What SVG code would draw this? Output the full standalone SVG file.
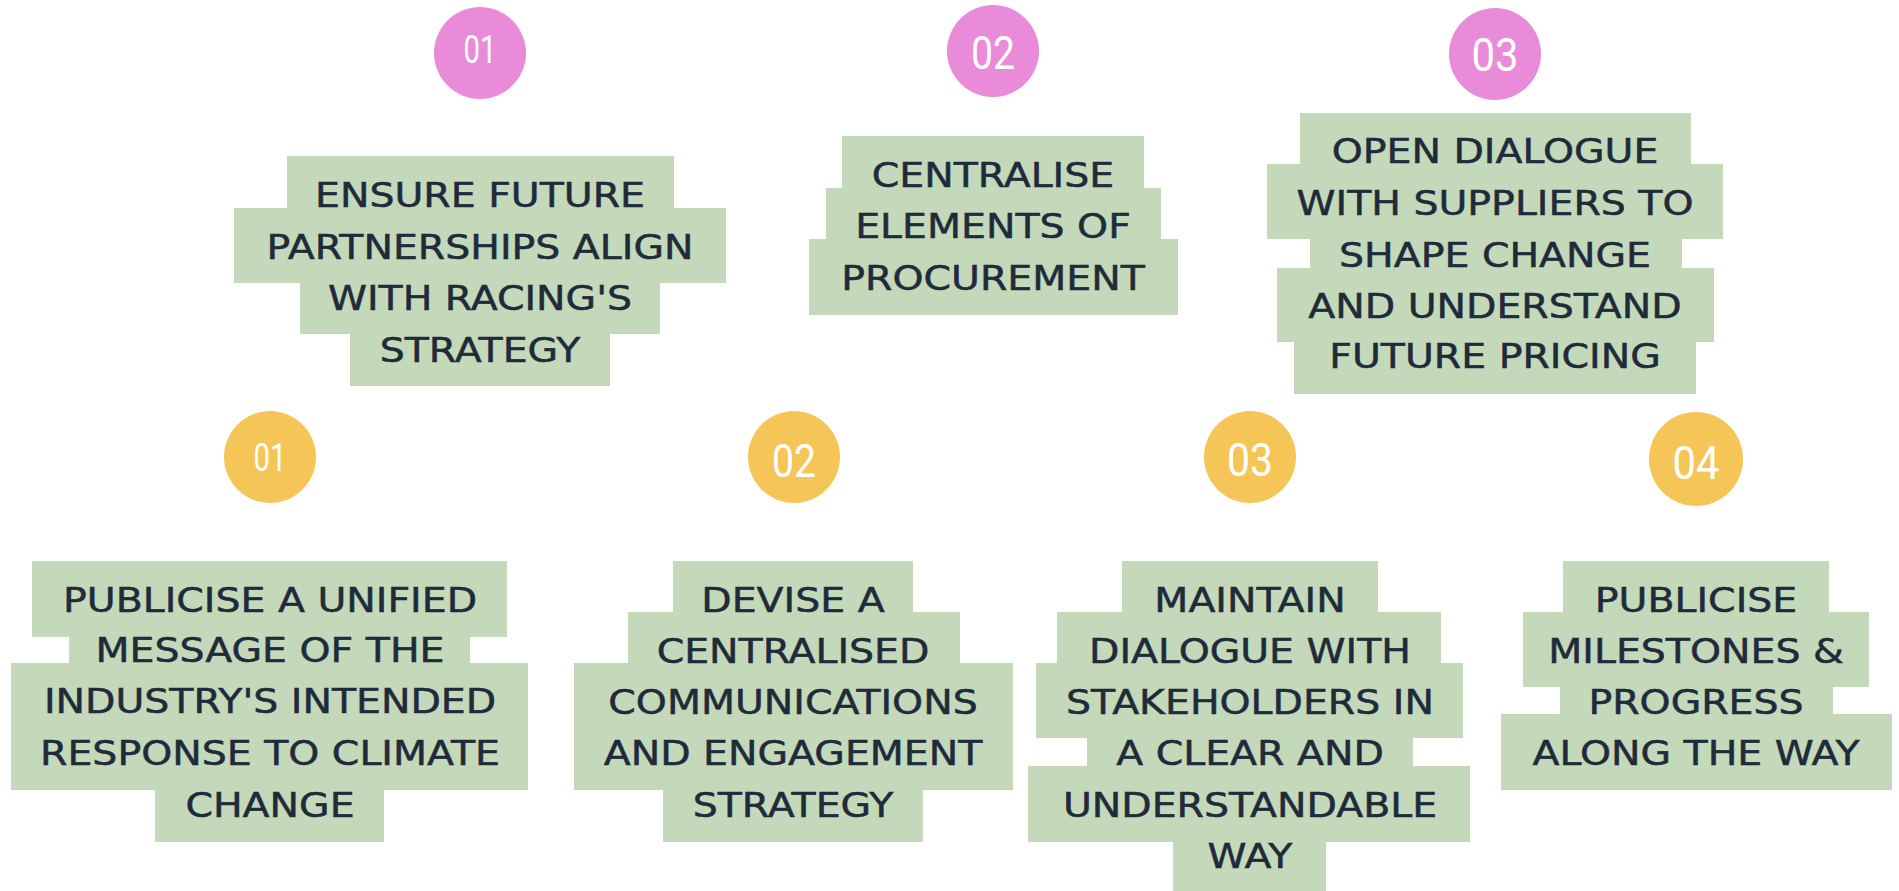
<svg xmlns="http://www.w3.org/2000/svg" width="1899" height="891" viewBox="0 0 1899 891">
<style>
.box{fill:#c3d9b9}
.pink{fill:#e98bd9}
.yel{fill:#f6c557}
.num{font-family:Roboto,"Liberation Sans",sans-serif;fill:#ffffff;text-anchor:middle}
.lbl{font-family:"DejaVu Sans","Liberation Sans",sans-serif;font-size:33px;fill:#1f2a3a;stroke:#1f2a3a;stroke-width:0.5px;text-anchor:middle}
</style>
<rect width="1899" height="891" fill="#ffffff"/>
<g id="connectors"/>
<g id="p1">
<circle class="pink" cx="480" cy="53" r="46"/>
<text class="num" x="480" y="63" font-size="38" textLength="33" lengthAdjust="spacingAndGlyphs">01</text>
<rect class="box" x="287" y="156" width="387" height="52"/>
<rect class="box" x="234" y="208" width="492" height="75"/>
<rect class="box" x="300" y="283" width="360" height="51"/>
<rect class="box" x="350" y="334" width="260" height="52"/>
<text class="lbl" transform="translate(480 0) scale(1.195 1)"><tspan x="0" y="207">ENSURE FUTURE</tspan><tspan x="0" y="259">PARTNERSHIPS ALIGN</tspan><tspan x="0" y="310">WITH RACING'S</tspan><tspan x="0" y="362">STRATEGY</tspan></text>
</g>
<g id="p2">
<circle class="pink" cx="993" cy="51" r="46"/>
<text class="num" x="993" y="69" font-size="46" textLength="44" lengthAdjust="spacingAndGlyphs">02</text>
<rect class="box" x="842" y="136" width="302" height="52"/>
<rect class="box" x="826" y="188" width="335" height="51"/>
<rect class="box" x="809" y="239" width="369" height="76"/>
<text class="lbl" transform="translate(993 0) scale(1.195 1)"><tspan x="0" y="187">CENTRALISE</tspan><tspan x="0" y="238">ELEMENTS OF</tspan><tspan x="0" y="290">PROCUREMENT</tspan></text>
</g>
<g id="p3">
<circle class="pink" cx="1495" cy="54" r="46"/>
<text class="num" x="1495" y="71" font-size="46" textLength="47" lengthAdjust="spacingAndGlyphs">03</text>
<rect class="box" x="1300" y="113" width="391" height="51"/>
<rect class="box" x="1267" y="164" width="456" height="75"/>
<rect class="box" x="1310" y="239" width="372" height="29"/>
<rect class="box" x="1277" y="268" width="437" height="74"/>
<rect class="box" x="1294" y="342" width="402" height="52"/>
<text class="lbl" transform="translate(1495 0) scale(1.195 1)"><tspan x="0" y="163">OPEN DIALOGUE</tspan><tspan x="0" y="215">WITH SUPPLIERS TO</tspan><tspan x="0" y="267">SHAPE CHANGE</tspan><tspan x="0" y="318">AND UNDERSTAND</tspan><tspan x="0" y="368">FUTURE PRICING</tspan></text>
</g>
<g id="y1">
<circle class="yel" cx="270" cy="457" r="46"/>
<text class="num" x="270" y="471" font-size="38" textLength="33" lengthAdjust="spacingAndGlyphs">01</text>
<rect class="box" x="32" y="561" width="475" height="76"/>
<rect class="box" x="69" y="637" width="401" height="26"/>
<rect class="box" x="11" y="663" width="517" height="127"/>
<rect class="box" x="155" y="790" width="229" height="52"/>
<text class="lbl" transform="translate(270 0) scale(1.195 1)"><tspan x="0" y="612">PUBLICISE A UNIFIED</tspan><tspan x="0" y="662">MESSAGE OF THE</tspan><tspan x="0" y="713">INDUSTRY'S INTENDED</tspan><tspan x="0" y="765">RESPONSE TO CLIMATE</tspan><tspan x="0" y="817">CHANGE</tspan></text>
</g>
<g id="y2">
<circle class="yel" cx="794" cy="457" r="46"/>
<text class="num" x="794" y="477" font-size="46" textLength="44" lengthAdjust="spacingAndGlyphs">02</text>
<rect class="box" x="673" y="561" width="240" height="51"/>
<rect class="box" x="628" y="612" width="332" height="51"/>
<rect class="box" x="574" y="663" width="439" height="127"/>
<rect class="box" x="663" y="790" width="260" height="52"/>
<text class="lbl" transform="translate(793 0) scale(1.195 1)"><tspan x="0" y="612">DEVISE A</tspan><tspan x="0" y="663">CENTRALISED</tspan><tspan x="0" y="714">COMMUNICATIONS</tspan><tspan x="0" y="765">AND ENGAGEMENT</tspan><tspan x="0" y="817">STRATEGY</tspan></text>
</g>
<g id="y3">
<circle class="yel" cx="1250" cy="457" r="46"/>
<text class="num" x="1250" y="476" font-size="46" textLength="46" lengthAdjust="spacingAndGlyphs">03</text>
<rect class="box" x="1122" y="561" width="256" height="51"/>
<rect class="box" x="1057" y="612" width="384" height="51"/>
<rect class="box" x="1036" y="663" width="427" height="75"/>
<rect class="box" x="1087" y="738" width="326" height="28"/>
<rect class="box" x="1028" y="766" width="442" height="76"/>
<rect class="box" x="1173" y="842" width="153" height="49"/>
<text class="lbl" transform="translate(1250 0) scale(1.195 1)"><tspan x="0" y="612">MAINTAIN</tspan><tspan x="0" y="663">DIALOGUE WITH</tspan><tspan x="0" y="714">STAKEHOLDERS IN</tspan><tspan x="0" y="765">A CLEAR AND</tspan><tspan x="0" y="817">UNDERSTANDABLE</tspan><tspan x="0" y="868">WAY</tspan></text>
</g>
<g id="y4">
<circle class="yel" cx="1696" cy="459" r="47"/>
<text class="num" x="1696" y="479" font-size="46" textLength="47" lengthAdjust="spacingAndGlyphs">04</text>
<rect class="box" x="1563" y="561" width="266" height="51"/>
<rect class="box" x="1523" y="612" width="346" height="75"/>
<rect class="box" x="1560" y="687" width="273" height="27"/>
<rect class="box" x="1501" y="714" width="391" height="76"/>
<text class="lbl" transform="translate(1696 0) scale(1.195 1)"><tspan x="0" y="612">PUBLICISE</tspan><tspan x="0" y="663">MILESTONES &amp;</tspan><tspan x="0" y="714">PROGRESS</tspan><tspan x="0" y="765">ALONG THE WAY</tspan></text>
</g>
</svg>
